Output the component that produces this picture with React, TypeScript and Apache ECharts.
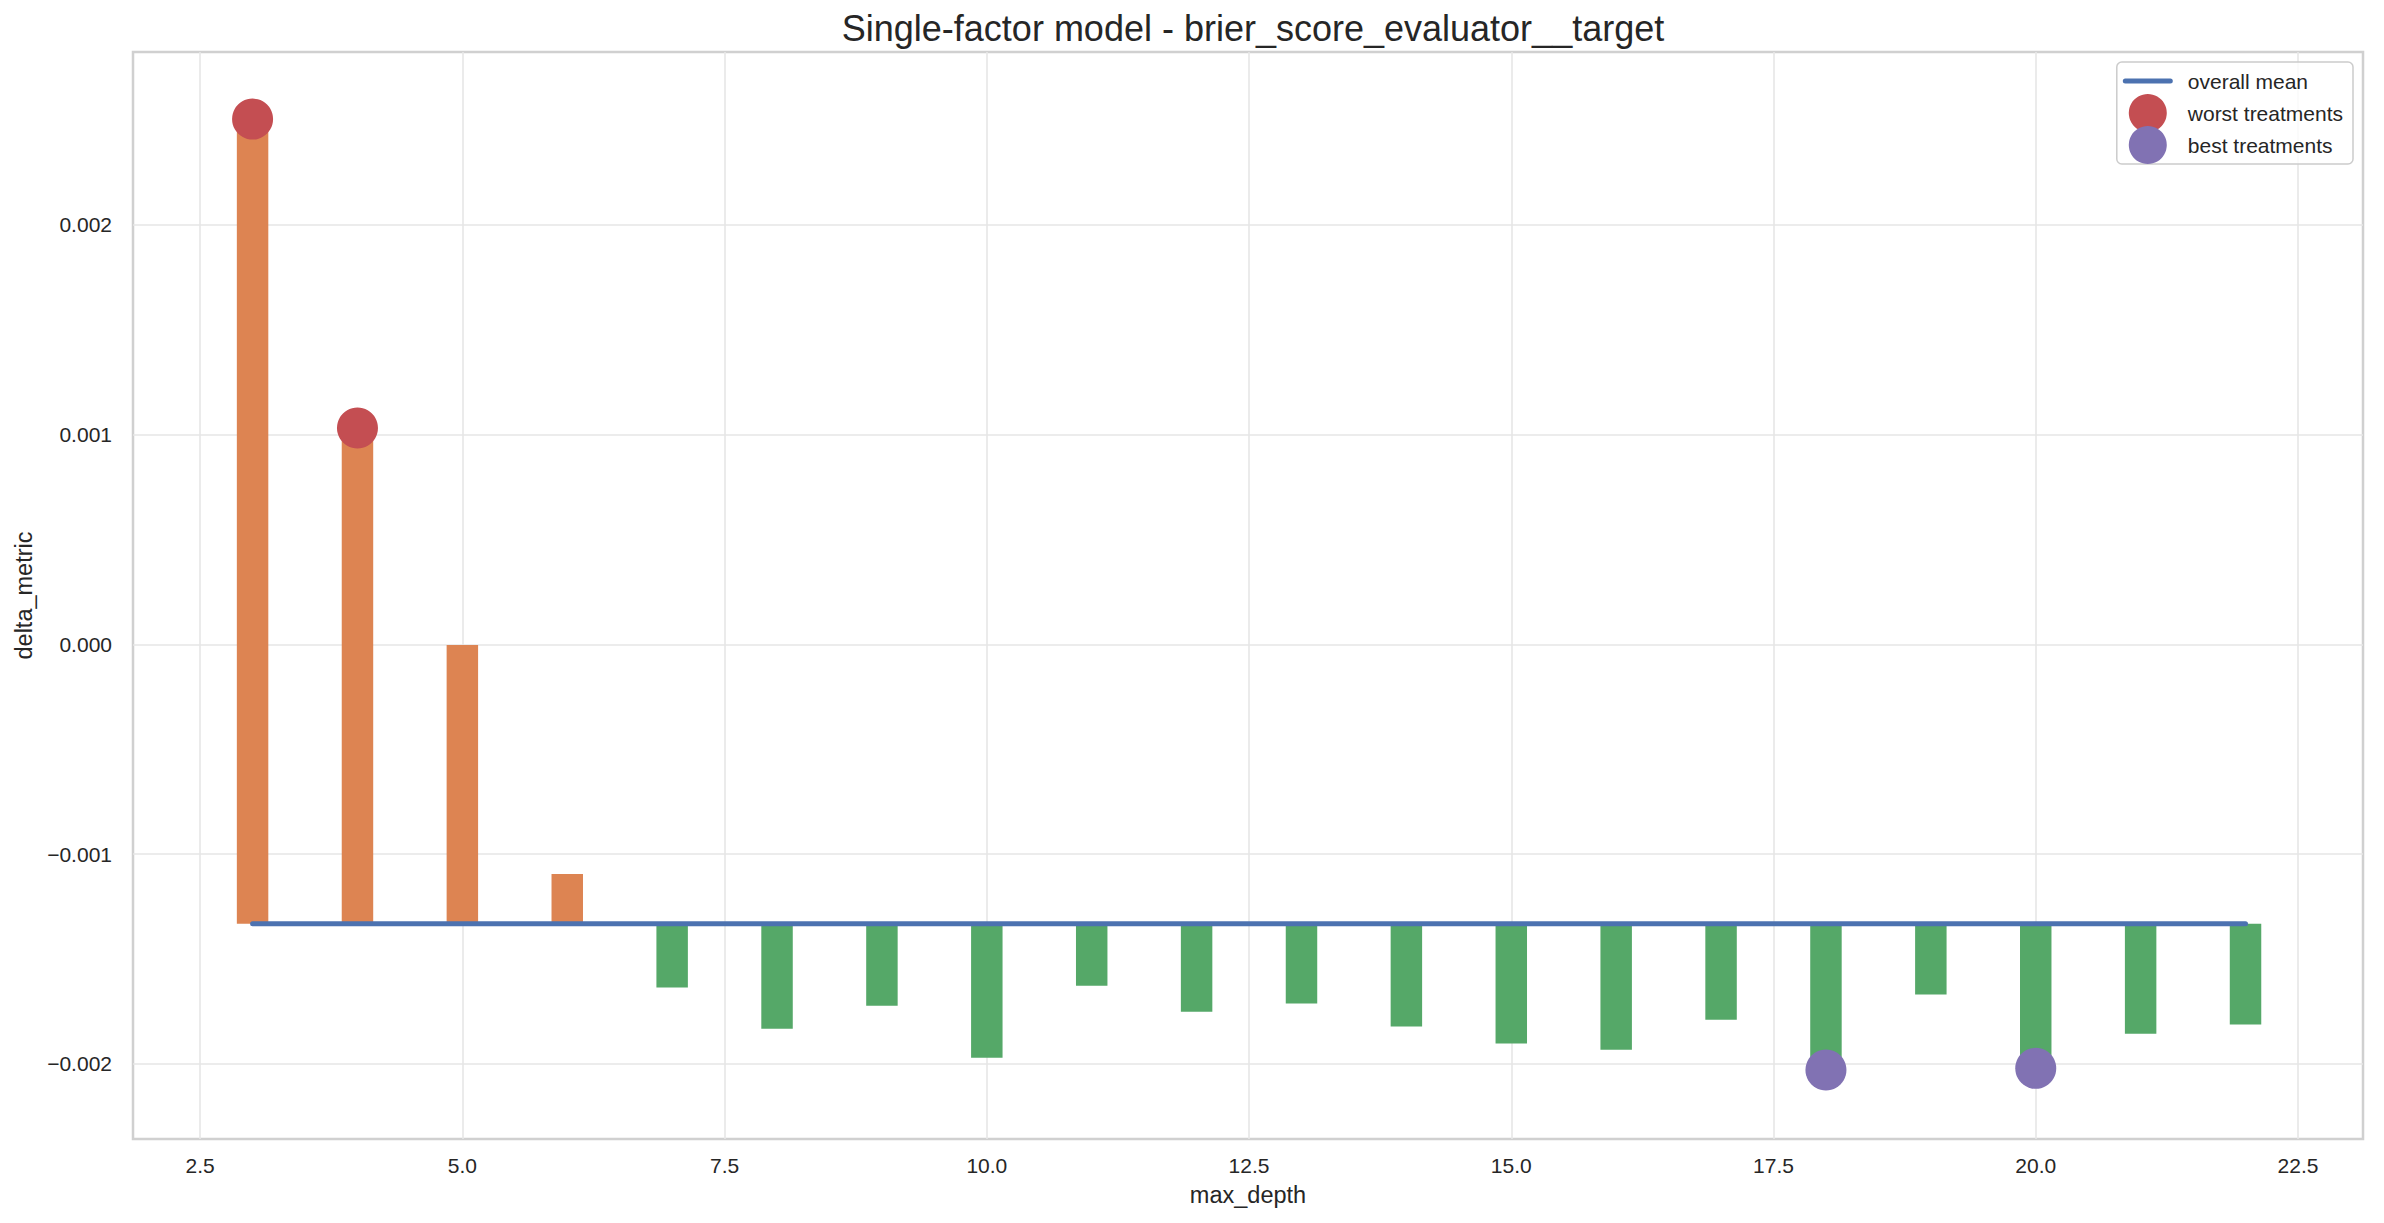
import React, { useEffect, useRef } from "react";
import * as echarts from "echarts";

// ---- data ----
const maxDepth = [3, 4, 5, 6, 7, 8, 9, 10, 11, 12, 13, 14, 15, 16, 17, 18, 19, 20, 21, 22];
const deltaMetric = [
  0.002505, 0.001032, -0.000003, -0.001095, -0.001637, -0.001833, -0.001723, -0.001971,
  -0.001628, -0.001752, -0.001713, -0.001823, -0.001904, -0.001933, -0.00179, -0.00203,
  -0.00167, -0.002022, -0.001857, -0.001813,
];
const overallMean = -0.001333;
const meanLineX = [3, 22];
const worstX = [3, 4];
const worstY = [0.002505, 0.001032];
const bestX = [18, 20];
const bestY = [-0.00203, -0.002022];
const xTicks = [2.5, 5, 7.5, 10, 12.5, 15, 17.5, 20, 22.5];
const yTicks = [-0.002, -0.001, 0, 0.001, 0.002];

const TEXT = "#262626";
const FONT = "'Liberation Sans', Arial, sans-serif";
const BAR_W = 0.3;
const LINE_ICON =
  "path://M2.5,0 L47.5,0 A2.5,2.5 0 0 1 47.5,5 L2.5,5 A2.5,2.5 0 0 1 2.5,0 Z";

export default function App() {
  const ref = useRef<HTMLDivElement>(null);
  useEffect(() => {
    if (!ref.current) return;
    const chart = echarts.init(ref.current, null, { renderer: "svg" });
    const option: any = {
      animation: false,
      backgroundColor: "#ffffff",
      textStyle: { fontFamily: FONT, color: TEXT },
      title: {
        text: "Single-factor model - brier_score_evaluator__target",
        left: 1248,
        textAlign: "center",
        top: 5,
        textStyle: { fontSize: 36, fontWeight: "normal", color: TEXT, fontFamily: FONT },
      },
      legend: {
        data: [
          { name: "overall mean", icon: LINE_ICON },
          { name: "worst treatments", icon: "circle" },
          { name: "best treatments", icon: "circle" },
        ],
        orient: "vertical",
        right: 31,
        top: 62,
        align: "left",
        itemWidth: 50,
        itemHeight: 38,
        itemGap: -6,
        padding: [0, 10, 0, 6],
        backgroundColor: "rgba(255,255,255,0.8)",
        borderColor: "#cccccc",
        borderWidth: 1.5,
        borderRadius: 5,
        textStyle: {
          fontSize: 21,
          lineHeight: 38,
          color: TEXT,
          fontFamily: FONT,
          padding: [0, 0, 0, 10],
        },
      },
      grid: {
        left: 133,
        right: 21,
        top: 52,
        bottom: 84,
        show: true,
        borderColor: "#d0d0d0",
        borderWidth: 2.5,
        backgroundColor: "transparent",
      },
      xAxis: {
        type: "value",
        min: 1.86,
        max: 23.12,
        name: "max_depth",
        nameLocation: "middle",
        nameGap: 44,
        nameTextStyle: { fontSize: 23.5, color: TEXT, fontFamily: FONT },
        axisLine: { show: false },
        axisTick: { show: false, customValues: xTicks },
        axisLabel: {
          customValues: xTicks,
          fontSize: 21,
          color: TEXT,
          fontFamily: FONT,
          margin: 16,
          formatter: (v: number) => v.toFixed(1),
        },
        splitLine: { show: true, lineStyle: { color: "#e6e6e6", width: 1.6 } },
      },
      yAxis: {
        type: "value",
        min: -0.002359,
        max: 0.002825,
        name: "delta_metric",
        nameLocation: "middle",
        nameGap: 92,
        nameTextStyle: { fontSize: 23.5, color: TEXT, fontFamily: FONT },
        axisLine: { show: false },
        axisTick: { show: false, customValues: yTicks },
        axisLabel: {
          customValues: yTicks,
          fontSize: 21,
          color: TEXT,
          fontFamily: FONT,
          margin: 21,
          formatter: (v: number) => v.toFixed(3).replace("-", "\u2212"),
        },
        splitLine: { show: true, lineStyle: { color: "#e6e6e6", width: 1.6 } },
      },
      series: [
        {
          name: "delta",
          type: "custom",
          z: 2,
          encode: { x: 0, y: 1 },
          data: maxDepth.map((d, i) => [d, deltaMetric[i]]),
          renderItem: (_params: any, api: any) => {
            const x = api.value(0) as number;
            const v = api.value(1) as number;
            const a = api.coord([x - BAR_W / 2, Math.max(v, overallMean)]);
            const b = api.coord([x + BAR_W / 2, Math.min(v, overallMean)]);
            return {
              type: "rect",
              shape: { x: a[0], y: a[1], width: b[0] - a[0], height: b[1] - a[1] },
              style: { fill: v >= overallMean ? "#DD8452" : "#55A868" },
            };
          },
        },
        {
          name: "overall mean",
          type: "line",
          z: 3,
          symbol: "none",
          data: meanLineX.map((x) => [x, overallMean]),
          lineStyle: { color: "#4C72B0", width: 5, cap: "round" },
          itemStyle: { color: "#4C72B0" },
        },
        {
          name: "worst treatments",
          type: "scatter",
          z: 4,
          symbol: "circle",
          symbolSize: 41,
          data: worstX.map((x, i) => [x, worstY[i]]),
          itemStyle: { color: "#C44E52", opacity: 1 },
        },
        {
          name: "best treatments",
          type: "scatter",
          z: 4,
          symbol: "circle",
          symbolSize: 41,
          data: bestX.map((x, i) => [x, bestY[i]]),
          itemStyle: { color: "#8172B3", opacity: 1 },
        },
      ],
    };
    chart.setOption(option);
    return () => chart.dispose();
  }, []);
  return (
    <div
      ref={ref}
      style={{ position: "fixed", left: 0, top: 0, width: 2384, height: 1223 }}
    />
  );
}
